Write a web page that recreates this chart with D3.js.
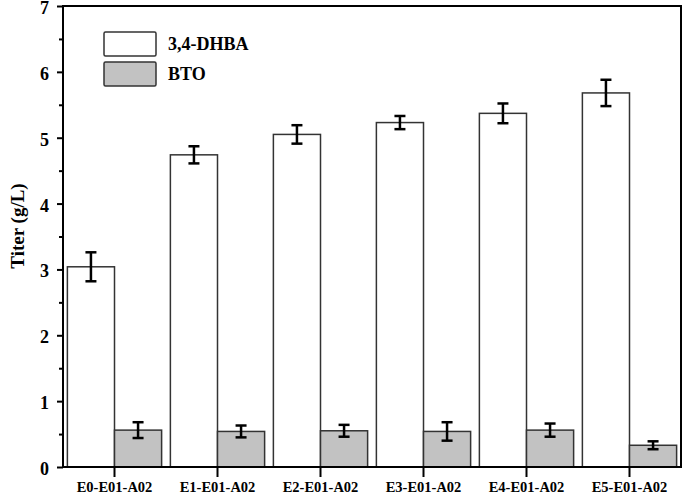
<!DOCTYPE html>
<html>
<head>
<meta charset="utf-8">
<script src="https://cdn.jsdelivr.net/npm/d3@7"></script>
<style>
  body { margin: 0; background: #fff; }
  text { font-family: "Liberation Serif", "Times New Roman", serif; font-weight: bold; }
</style>
</head>
<body>
<div id="chart"></div>
<script>
const categories = ['E0-E01-A02', 'E1-E01-A02', 'E2-E01-A02', 'E3-E01-A02', 'E4-E01-A02', 'E5-E01-A02'];
const seriesNames = ['3,4-DHBA', 'BTO'];
const dhba = [3.04, 4.74, 5.05, 5.23, 5.37, 5.68];
const dhbaErr = [0.22, 0.13, 0.14, 0.10, 0.15, 0.20];
const bto = [0.56, 0.54, 0.55, 0.54, 0.56, 0.33];
const btoErr = [0.12, 0.09, 0.09, 0.14, 0.10, 0.06];
const yTicks = [0, 1, 2, 3, 4, 5, 6, 7];

function makeChart() {
    const width = 685,
        height = 497,
        left = 63, right = 681, top = 6, bottom = 467;

    const fills = ['#ffffff', '#c2c2c2'];

    let svg = d3.select('#chart').append('svg')
        .attr('width', width)
        .attr('height', height);

    let x = d3.scaleBand()
        .domain(categories)
        .range([left, right])
        .paddingInner(0)
        .paddingOuter(0);

    let xSub = d3.scaleBand()
        .domain(seriesNames)
        .range([0, x.bandwidth()])
        .paddingInner(0)
        .paddingOuter(0.093);

    let y = d3.scaleLinear()
        .domain([0, 7])
        .range([bottom, top]);

    let rows = categories.map((c, i) => [
        { cat: c, s: seriesNames[0], v: dhba[i], e: dhbaErr[i], k: 0 },
        { cat: c, s: seriesNames[1], v: bto[i], e: btoErr[i], k: 1 }
    ]);

    // bars
    let groups = svg.append('g')
        .selectAll('g')
        .data(rows)
        .enter().append('g')
        .attr('transform', d => 'translate(' + x(d[0].cat) + ',0)');

    groups.selectAll('rect')
        .data(d => d)
        .enter().append('rect')
        .attr('x', d => xSub(d.s))
        .attr('width', xSub.bandwidth())
        .attr('y', d => y(d.v))
        .attr('height', d => y(0) - y(d.v))
        .style('fill', d => fills[d.k])
        .style('stroke', '#333')
        .style('stroke-width', 1.5);

    // error bars
    let eb = groups.selectAll('g.err')
        .data(d => d)
        .enter().append('g')
        .attr('class', 'err')
        .style('stroke', '#000')
        .style('stroke-width', 2.5);

    const cap = 5.5;
    eb.append('line')
        .attr('x1', d => xSub(d.s) + xSub.bandwidth() / 2)
        .attr('x2', d => xSub(d.s) + xSub.bandwidth() / 2)
        .attr('y1', d => y(d.v + d.e))
        .attr('y2', d => y(d.v - d.e));
    eb.append('line')
        .attr('x1', d => xSub(d.s) + xSub.bandwidth() / 2 - cap)
        .attr('x2', d => xSub(d.s) + xSub.bandwidth() / 2 + cap)
        .attr('y1', d => y(d.v + d.e))
        .attr('y2', d => y(d.v + d.e));
    eb.append('line')
        .attr('x1', d => xSub(d.s) + xSub.bandwidth() / 2 - cap)
        .attr('x2', d => xSub(d.s) + xSub.bandwidth() / 2 + cap)
        .attr('y1', d => y(d.v - d.e))
        .attr('y2', d => y(d.v - d.e));

    // frame
    svg.append('rect')
        .attr('x', left)
        .attr('y', top)
        .attr('width', right - left)
        .attr('height', bottom - top)
        .style('fill', 'none')
        .style('stroke', '#000')
        .style('stroke-width', 2);

    // y axis
    let yAxis = svg.append('g')
        .attr('transform', 'translate(' + left + ',0)')
        .call(d3.axisLeft(y).tickValues(yTicks).tickFormat(d3.format('d')).tickSize(6).tickPadding(8));
    yAxis.select('.domain').remove();
    yAxis.selectAll('line').style('stroke', '#000').style('stroke-width', 2);
    yAxis.selectAll('text').style('font-size', '18px').style('fill', '#000').attr('dy', '0.42em');

    let minor = svg.append('g')
        .attr('transform', 'translate(' + left + ',0)')
        .call(d3.axisLeft(y).tickValues(yTicks.slice(0, -1).map(d => d + 0.5)).tickFormat('').tickSize(4));
    minor.select('.domain').remove();
    minor.selectAll('line').style('stroke', '#000').style('stroke-width', 2);

    // x axis
    let xAxis = svg.append('g')
        .attr('transform', 'translate(0,' + bottom + ')')
        .call(d3.axisBottom(x).tickSize(10).tickPadding(5));
    xAxis.select('.domain').remove();
    xAxis.selectAll('line').style('stroke', '#000').style('stroke-width', 2);
    xAxis.selectAll('text').style('font-size', '14.5px').style('fill', '#000');

    // y title
    svg.append('text')
        .attr('transform', 'translate(24,226) rotate(-90)')
        .style('text-anchor', 'middle')
        .style('font-size', '19px')
        .text('Titer (g/L)');

    // legend
    let legend = svg.append('g')
        .selectAll('g')
        .data(seriesNames)
        .enter().append('g')
        .attr('transform', (d, i) => 'translate(104,' + (32 + i * 30) + ')');
    legend.append('rect')
        .attr('width', 52)
        .attr('height', 24)
        .attr('rx', 1.5)
        .style('fill', (d, i) => fills[i])
        .style('stroke', '#333')
        .style('stroke-width', 1.5);
    legend.append('text')
        .attr('x', 64)
        .attr('y', 17.5)
        .style('font-size', '18px')
        .text(d => d);
}

makeChart();
</script>
</body>
</html>
